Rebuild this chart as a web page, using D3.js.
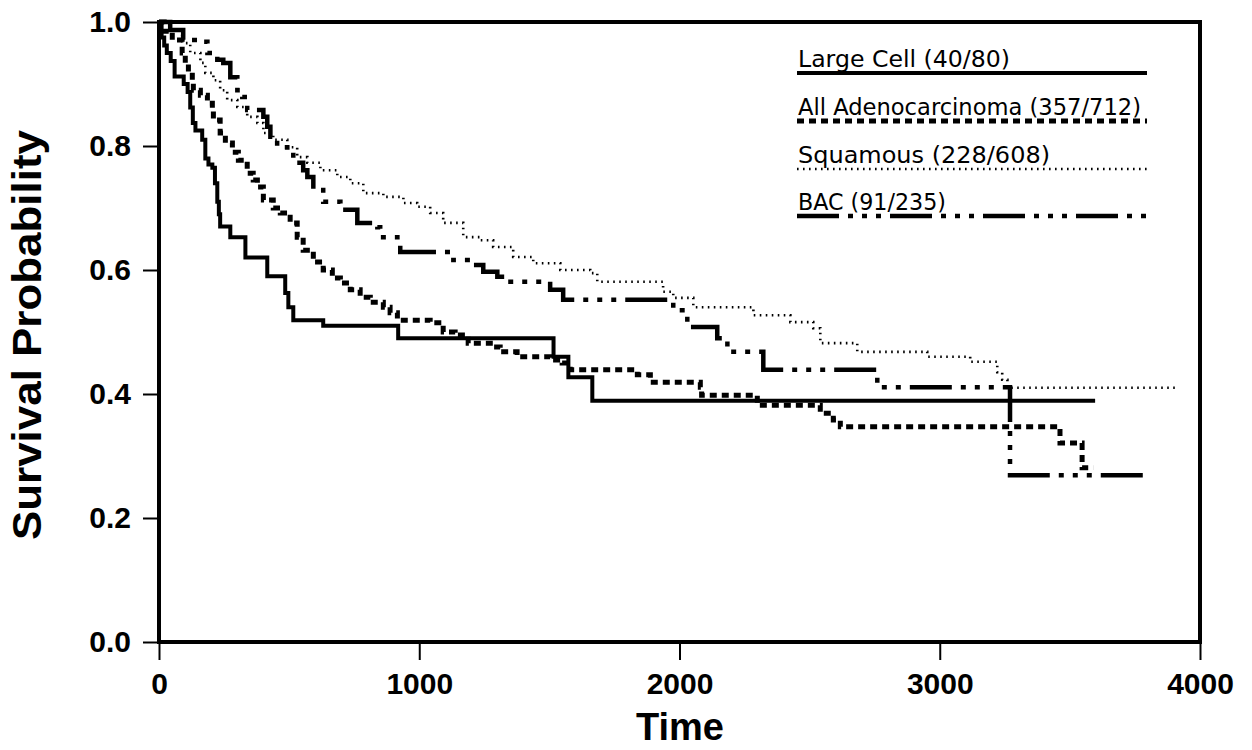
<!DOCTYPE html>
<html>
<head>
<meta charset="utf-8">
<script src="https://cdn.jsdelivr.net/npm/d3@7/dist/d3.min.js"></script>
<style>
  body { margin: 0; background: #fff; }
  svg { display: block; }
</style>
</head>
<body>
<div id="chart"></div>
<script>
// Kaplan-Meier steps: time at which the step starts, survival after it
var largeTimes = [0, 10, 20, 30, 45, 60, 95, 110, 120, 130, 140, 166, 178, 190, 205, 215, 224, 230, 235, 274, 332, 416, 485, 497, 516, 631, 919, 1516, 1573, 1665];
var largeSurv  = [1, 0.975, 0.962, 0.95, 0.937, 0.912, 0.9, 0.887, 0.862, 0.837, 0.825, 0.81, 0.78, 0.77, 0.765, 0.74, 0.71, 0.69, 0.67, 0.653, 0.62, 0.59, 0.563, 0.54, 0.519, 0.51, 0.49, 0.46, 0.427, 0.389];
var largeEnd = 3597;

var adenoTimes = [0, 20, 51, 89, 101, 113, 128, 132, 159, 186, 205, 209, 235, 255, 282, 305, 339, 362, 378, 401, 439, 466, 504, 531, 554, 593, 631, 666, 697, 735, 773, 812, 862, 888, 916, 1042, 1092, 1138, 1188, 1273, 1311, 1376, 1503, 1549, 1580, 1838, 1888, 2080, 2085, 2299, 2541, 2591, 2618, 3462, 3547];
var adenoSurv  = [1, 0.985, 0.971, 0.95, 0.934, 0.919, 0.903, 0.89, 0.882, 0.869, 0.858, 0.842, 0.821, 0.805, 0.79, 0.777, 0.756, 0.745, 0.734, 0.713, 0.7, 0.692, 0.676, 0.653, 0.632, 0.613, 0.6, 0.587, 0.579, 0.568, 0.556, 0.548, 0.54, 0.531, 0.519, 0.515, 0.5, 0.495, 0.482, 0.476, 0.468, 0.46, 0.455, 0.45, 0.439, 0.431, 0.419, 0.411, 0.398, 0.382, 0.369, 0.358, 0.347, 0.321, 0.281];
var adenoEnd = 3590;

var squamTimes = [0, 43, 89, 120, 159, 178, 209, 235, 262, 301, 339, 378, 401, 439, 493, 531, 570, 620, 685, 735, 785, 862, 939, 992, 1042, 1092, 1169, 1234, 1284, 1361, 1438, 1542, 1657, 1684, 1937, 1976, 2053, 2284, 2426, 2514, 2541, 2683, 2952, 3117, 3221, 3240, 3260];
var squamSurv  = [1, 0.987, 0.966, 0.95, 0.934, 0.918, 0.906, 0.89, 0.874, 0.863, 0.847, 0.837, 0.821, 0.81, 0.798, 0.782, 0.773, 0.761, 0.75, 0.74, 0.724, 0.718, 0.708, 0.702, 0.692, 0.676, 0.653, 0.648, 0.637, 0.621, 0.611, 0.6, 0.595, 0.581, 0.565, 0.555, 0.54, 0.527, 0.516, 0.506, 0.482, 0.468, 0.46, 0.452, 0.435, 0.423, 0.41];
var squamEnd = 3904;

var bacTimes = [0, 43, 93, 147, 186, 224, 247, 274, 301, 320, 339, 401, 416, 428, 454, 493, 516, 554, 570, 593, 631, 697, 762, 839, 850, 916, 927, 1131, 1196, 1246, 1300, 1338, 1503, 1553, 1976, 2022, 2030, 2145, 2184, 2322, 2760, 3270];
var bacSurv  = [1, 0.987, 0.971, 0.968, 0.95, 0.939, 0.934, 0.911, 0.89, 0.879, 0.858, 0.847, 0.831, 0.815, 0.798, 0.794, 0.773, 0.761, 0.75, 0.729, 0.71, 0.697, 0.676, 0.669, 0.653, 0.648, 0.629, 0.616, 0.608, 0.597, 0.589, 0.581, 0.568, 0.552, 0.535, 0.527, 0.508, 0.49, 0.468, 0.439, 0.411, 0.269];
var bacEnd = 3781;

var legendLabels = ["Large Cell (40/80)", "All Adenocarcinoma (357/712)", "Squamous (228/608)", "BAC (91/235)"];
var xTicks = [0, 1000, 2000, 3000, 4000];
var yTicks = [0, 0.2, 0.4, 0.6, 0.8, 1.0];

var width = 1252, height = 750;

var svg = d3.select('#chart')
    .append('svg')
    .attr('width', width)
    .attr('height', height);

var x = d3.scaleLinear().domain([0, 4000]).range([159, 1200]);
var y = d3.scaleLinear().domain([0, 1]).range([642, 22]);

// series styles: solid, short dash, fine dots, long dash + three dots
var styles = [
    { width: 4, dash: null },
    { width: 5, dash: '7,5' },
    { width: 2.6, dash: '1.6,4.4' },
    { width: 4.5, dash: '42,9,5,9,5,9,5,9' }
];

function steps(times, surv, end) {
    var pts = times.map(function(t, i) { return [t, surv[i]]; });
    pts.push([end, surv[surv.length - 1]]);
    return pts;
}

var series = [
    steps(largeTimes, largeSurv, largeEnd),
    steps(adenoTimes, adenoSurv, adenoEnd),
    steps(squamTimes, squamSurv, squamEnd),
    steps(bacTimes, bacSurv, bacEnd)
];

var line = d3.line()
    .x(function(d) { return x(d[0]); })
    .y(function(d) { return y(d[1]); })
    .curve(d3.curveStepAfter);

svg.selectAll('path.km')
    .data(series)
    .enter()
    .append('path')
    .attr('class', 'km')
    .attr('d', line)
    .attr('fill', 'none')
    .attr('stroke', '#000')
    .attr('stroke-width', function(d, i) { return styles[i].width; })
    .attr('stroke-dasharray', function(d, i) { return styles[i].dash; });

// axes
var xAxis = svg.append('g')
    .attr('transform', 'translate(0,' + y(0) + ')')
    .call(d3.axisBottom(x).tickValues(xTicks).tickSize(18).tickPadding(13).tickFormat(d3.format('d')));

var yAxis = svg.append('g')
    .attr('transform', 'translate(' + x(0) + ',0)')
    .call(d3.axisLeft(y).tickValues(yTicks).tickSize(16).tickPadding(12).tickFormat(d3.format('.1f')));

[xAxis, yAxis].forEach(function(a) {
    a.select('.domain').remove();
    a.selectAll('.tick line').attr('stroke', '#000').attr('stroke-width', 2);
    a.selectAll('.tick text')
        .attr('fill', '#000')
        .style('font-family', '"Liberation Sans", Arial, sans-serif')
        .style('font-weight', 'bold')
        .style('font-size', '30px');
});

// frame
svg.append('rect')
    .attr('x', x(0))
    .attr('y', y(1))
    .attr('width', x(4000) - x(0))
    .attr('height', y(0) - y(1))
    .attr('fill', 'none')
    .attr('stroke', '#000')
    .attr('stroke-width', 4);

// axis titles
svg.append('text')
    .attr('x', 680)
    .attr('y', 740)
    .attr('text-anchor', 'middle')
    .style('font-family', '"Liberation Sans", Arial, sans-serif')
    .style('font-weight', 'bold')
    .style('font-size', '38px')
    .text('Time');

svg.append('text')
    .attr('transform', 'translate(41,335) rotate(-90)')
    .attr('text-anchor', 'middle')
    .attr('textLength', 410)
    .attr('lengthAdjust', 'spacingAndGlyphs')
    .style('font-family', '"Liberation Sans", Arial, sans-serif')
    .style('font-weight', 'bold')
    .style('font-size', '40px')
    .text('Survival Probability');

// legend
var legendY = [73, 121, 169, 216];
var legendTextW = [212, 343, 252, 148];

var legend = svg.selectAll('.legend')
    .data(legendLabels)
    .enter()
    .append('g')
    .attr('class', 'legend')
    .attr('transform', function(d, i) { return 'translate(797,' + legendY[i] + ')'; });

legend.append('line')
    .attr('x1', 0)
    .attr('x2', 350)
    .attr('stroke', '#000')
    .attr('stroke-width', function(d, i) { return styles[i].width; })
    .attr('stroke-dasharray', function(d, i) { return styles[i].dash; });

legend.append('text')
    .attr('x', 1)
    .attr('y', -6)
    .attr('textLength', function(d, i) { return legendTextW[i]; })
    .attr('lengthAdjust', 'spacingAndGlyphs')
    .style('font-family', '"DejaVu Sans", sans-serif')
    .style('font-size', '23px')
    .text(function(d) { return d; });
</script>
</body>
</html>
